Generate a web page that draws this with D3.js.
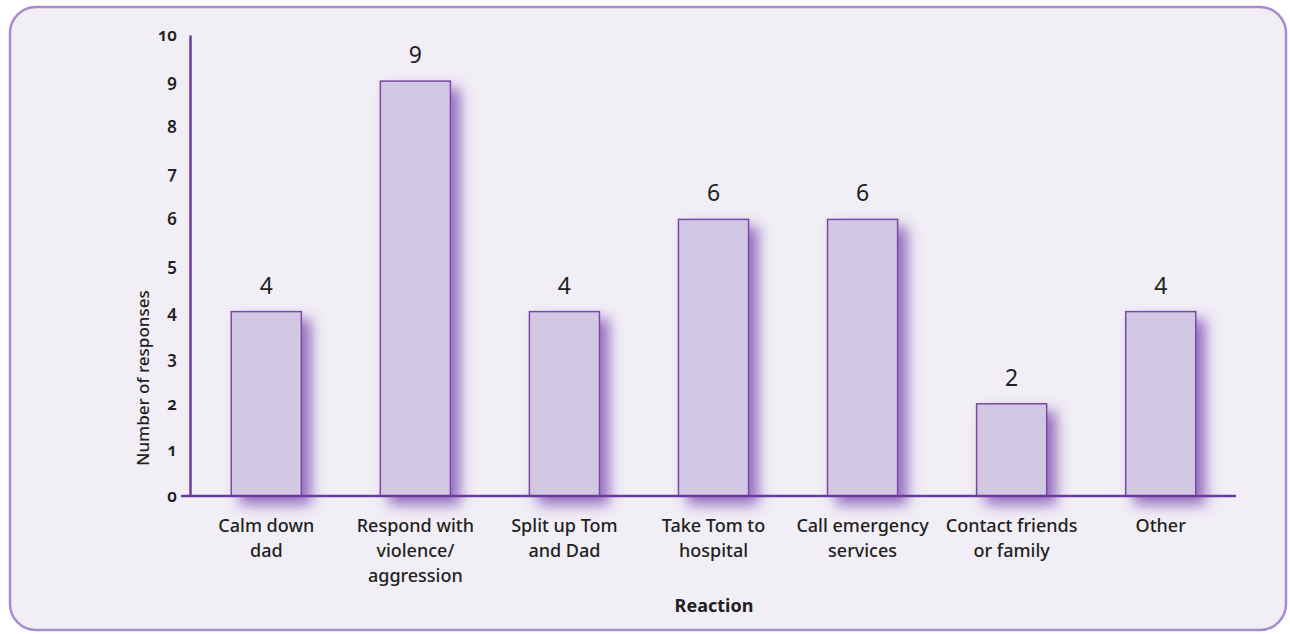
<!DOCTYPE html>
<meta charset="utf-8">
<style>
body { margin: 0; background: #fff; }
text { font-family: "Noto Sans", "Open Sans", sans-serif; fill: #231f20; }
.tick text { font-variant-numeric: oldstyle-nums; font-weight: 600; }
</style>
<svg width="1290" height="634"></svg>
<script src="https://d3js.org/d3.v7.min.js"></script>
<script>

var categories = [
  ["Calm down", "dad"],
  ["Respond with", "violence/", "aggression"],
  ["Split up Tom", "and Dad"],
  ["Take Tom to", "hospital"],
  ["Call emergency", "services"],
  ["Contact friends", "or family"],
  ["Other"]
];
var responses = [4, 9, 4, 6, 6, 2, 4];
var yTicks = [0, 1, 2, 3, 4, 5, 6, 7, 8, 9, 10];

var svg = d3.select("svg");

var defs = svg.append("defs");
var f = defs.append("filter").attr("id", "shadow")
  .attr("x", "-30%").attr("y", "-10%").attr("width", "180%").attr("height", "135%");
f.append("feDropShadow")
  .attr("dx", 9).attr("dy", 8)
  .attr("stdDeviation", 7)
  .attr("flood-color", "#7b4db0")
  .attr("flood-opacity", 0.8);

// panel
svg.append("rect")
  .attr("x", 10).attr("y", 7)
  .attr("width", 1276).attr("height", 623)
  .attr("rx", 26)
  .attr("fill", "#f1eef6")
  .attr("stroke", "#a98bcb")
  .attr("stroke-width", 2.5);

var x = d3.scaleBand()
  .domain(d3.range(categories.length))
  .range([191, 1236])
  .paddingInner(0.53)
  .paddingOuter(0.27);

var y = d3.scaleLinear()
  .domain([0, 10])
  .range([496, 35]);

// bars
svg.append("g").selectAll("rect")
  .data(responses)
  .join("rect")
  .attr("x", function(d, i) { return x(i); })
  .attr("y", function(d) { return y(d); })
  .attr("width", x.bandwidth())
  .attr("height", function(d) { return y(0) - y(d); })
  .attr("fill", "#d3c8e4")
  .attr("stroke", "#7a4aa8")
  .attr("stroke-width", 1.5)
  .attr("filter", "url(#shadow)");

// value labels
svg.append("g").selectAll("text")
  .data(responses)
  .join("text")
  .attr("x", function(d, i) { return x(i) + x.bandwidth() / 2; })
  .attr("y", function(d) { return y(d) - 18; })
  .attr("text-anchor", "middle")
  .attr("font-size", 23)
  .text(function(d) { return d; });

// y axis
var yAxis = svg.append("g")
  .attr("transform", "translate(190,0)")
  .call(d3.axisLeft(y).tickValues(yTicks).tickSize(0).tickPadding(13));
yAxis.select(".domain").attr("stroke", "#6b3a9e").attr("stroke-width", 2.5);
yAxis.selectAll("text").attr("font-size", 17);

// x axis line
svg.append("line")
  .attr("x1", 181).attr("x2", 1236)
  .attr("y1", y(0)).attr("y2", y(0))
  .attr("stroke", "#6b3a9e")
  .attr("stroke-width", 2.5);

// category labels
var cat = svg.append("g").selectAll("text")
  .data(categories)
  .join("text")
  .attr("text-anchor", "middle")
  .attr("font-size", 18)
  .attr("font-weight", 500)
  .attr("x", function(d, i) { return x(i) + x.bandwidth() / 2; })
  .attr("y", 532);
cat.selectAll("tspan")
  .data(function(d) { return d; })
  .join("tspan")
  .attr("x", function() { return d3.select(this.parentNode).attr("x"); })
  .attr("dy", function(d, j) { return j === 0 ? 0 : 25; })
  .text(function(d) { return d; });

// axis titles
svg.append("text")
  .attr("x", 714).attr("y", 612)
  .attr("text-anchor", "middle")
  .attr("font-size", 18)
  .attr("font-weight", "bold")
  .text("Reaction");

svg.append("text")
  .attr("transform", "translate(149,378) rotate(-90)")
  .attr("text-anchor", "middle")
  .attr("font-size", 17)
  .attr("font-weight", 500)
  .text("Number of responses");

</script>
